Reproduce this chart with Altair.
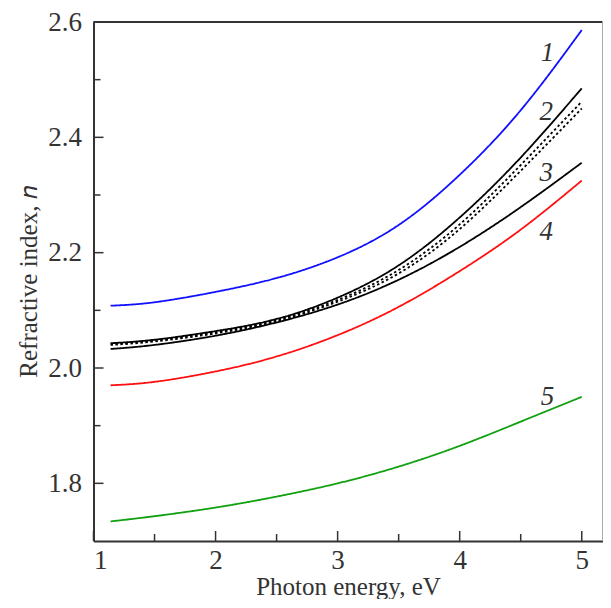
import altair as alt
import pandas as pd

# ---- data ----
energy = [1.14, 1.5, 2.0, 2.5, 3.0, 3.5, 4.0, 4.5, 5.0]
n_1 = [2.108, 2.114, 2.132, 2.156, 2.192, 2.248, 2.335, 2.447, 2.586]
n_2 = [2.043, 2.049, 2.064, 2.085, 2.122, 2.178, 2.261, 2.365, 2.485]
n_2a = [2.042, 2.048, 2.062, 2.083, 2.118, 2.170, 2.249, 2.352, 2.462]
n_2b = [2.040, 2.046, 2.060, 2.081, 2.115, 2.164, 2.241, 2.342, 2.450]
n_3 = [2.033, 2.040, 2.056, 2.079, 2.110, 2.153, 2.210, 2.279, 2.356]
n_4 = [1.970, 1.976, 1.994, 2.020, 2.057, 2.106, 2.168, 2.240, 2.325]
n_5 = [1.734, 1.743, 1.758, 1.777, 1.800, 1.829, 1.865, 1.907, 1.950]

series_names = ["1", "2", "2a", "2b", "3", "4", "5"]
series_values = [n_1, n_2, n_2a, n_2b, n_3, n_4, n_5]
series_colors = ["#1010ff", "#000000", "#000000", "#000000", "#000000", "#ff1010", "#10a010"]
series_dash = [[1, 0], [1, 0], [2.5, 2.5], [2.5, 2.5], [1, 0], [1, 0], [1, 0]]
series_width = [1.8, 1.8, 2.2, 2.2, 1.8, 1.8, 1.8]

label_text = ["1", "2", "3", "4", "5"]
label_x = [4.72, 4.71, 4.71, 4.71, 4.72]
label_y = [2.547, 2.444, 2.339, 2.236, 1.949]

x_major = [1, 2, 3, 4, 5]
x_minor = [1.5, 2.5, 3.5, 4.5]
y_major = [1.8, 2.0, 2.2, 2.4, 2.6]
y_minor = [1.9, 2.1, 2.3, 2.5]

x_domain = [1.0, 5.17]
y_domain = [1.7, 2.6]

W, H = 509, 519
FONT = "Liberation Serif"
INK = "#333333"

rows = []
for name, vals in zip(series_names, series_values):
    for e, v in zip(energy, vals):
        rows.append({"energy": e, "n": v, "series": name})
df = pd.DataFrame(rows)

xs = alt.Scale(domain=x_domain, nice=False, zero=False)
ys = alt.Scale(domain=y_domain, nice=False, zero=False)

x_axis = alt.Axis(values=x_major, format="d", title="Photon energy, eV",
                  ticks=False, grid=False, domainColor=INK, domainWidth=2,
                  labelFont=FONT, labelFontSize=27, labelColor=INK, labelPadding=6,
                  titleFont=FONT, titleFontSize=25, titleFontWeight="normal",
                  titleColor=INK, titlePadding=1)
y_axis = alt.Axis(values=y_major, format=".1f", title="Refractive index, 𝑛",
                  ticks=False, grid=False, domainColor=INK, domainWidth=2,
                  labelFont=FONT, labelFontSize=27, labelColor=INK, labelPadding=12,
                  titleFont=FONT, titleFontSize=25, titleFontWeight="normal",
                  titleColor=INK, titlePadding=6)

lines = alt.Chart(df).mark_line(interpolate="natural").encode(
    x=alt.X("energy:Q", scale=xs, axis=x_axis),
    y=alt.Y("n:Q", scale=ys, axis=y_axis),
    color=alt.Color("series:N", scale=alt.Scale(domain=series_names, range=series_colors), legend=None),
    strokeDash=alt.StrokeDash("series:N", scale=alt.Scale(domain=series_names, range=series_dash), legend=None),
    strokeWidth=alt.StrokeWidth("series:N", scale=alt.Scale(domain=series_names, range=series_width), legend=None),
    detail="series:N",
)

labels = alt.Chart(pd.DataFrame({"energy": label_x, "n": label_y, "lt": label_text})).mark_text(
    font=FONT, fontStyle="italic", fontSize=27, color=INK, align="center", baseline="middle"
).encode(
    x=alt.X("energy:Q", scale=xs),
    y=alt.Y("n:Q", scale=ys),
    text="lt:N",
)

xmaj = alt.Chart(pd.DataFrame({"energy": x_major})).mark_rule(color=INK, strokeWidth=1.5).encode(
    x=alt.X("energy:Q", scale=xs), y=alt.value(H), y2=alt.value(H - 10))
xmin = alt.Chart(pd.DataFrame({"energy": x_minor})).mark_rule(color=INK, strokeWidth=1.5).encode(
    x=alt.X("energy:Q", scale=xs), y=alt.value(H), y2=alt.value(H - 7))
ymaj = alt.Chart(pd.DataFrame({"n": y_major})).mark_rule(color=INK, strokeWidth=1.5).encode(
    y=alt.Y("n:Q", scale=ys), x=alt.value(0), x2=alt.value(10))
ymin = alt.Chart(pd.DataFrame({"n": y_minor})).mark_rule(color=INK, strokeWidth=1.5).encode(
    y=alt.Y("n:Q", scale=ys), x=alt.value(0), x2=alt.value(7))

top_border = alt.Chart(pd.DataFrame({"a": [0]})).mark_rule(color=INK, strokeWidth=2).encode(
    x=alt.value(0), x2=alt.value(W), y=alt.value(0))
right_border = alt.Chart(pd.DataFrame({"a": [0]})).mark_rule(color="#aaaaaa", strokeWidth=1).encode(
    x=alt.value(W), y=alt.value(0), y2=alt.value(H))

chart = alt.layer(lines, labels, xmaj, xmin, ymaj, ymin, top_border, right_border).properties(
    width=W, height=H,
    autosize=alt.AutoSizeParams(type="none"),
    padding={"left": 85.5, "top": 14, "right": 0, "bottom": 58},
    background="white",
).configure_view(stroke=None)

chart.save("out.html", embed_options={"renderer": "svg", "actions": False})
